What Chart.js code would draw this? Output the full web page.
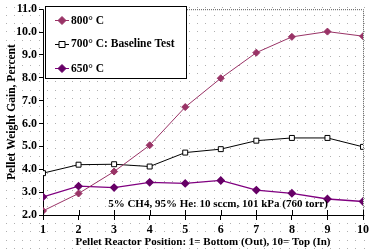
<!DOCTYPE html>
<html><head><meta charset="utf-8">
<script src="https://cdn.jsdelivr.net/npm/chart.js@4.4.0/dist/chart.umd.min.js"></script>
<style>html,body{margin:0;padding:0;background:#fff;}canvas{display:block;}</style>
</head><body>
<canvas id="c" width="372" height="251"></canvas>
<script>
const positions = [1,2,3,4,5,6,7,8,9,10];
const s800 = [2.18,2.94,3.9,5.05,6.72,7.98,9.1,9.79,10.02,9.82];
const s700 = [3.83,4.2,4.22,4.12,4.73,4.88,5.25,5.37,5.37,4.98];
const s650 = [2.79,3.26,3.2,3.43,3.38,3.51,3.09,2.95,2.7,2.59];
const yTicks = [2,3,4,5,6,7,8,9,10,11];
const labels = ["800° C","700° C: Baseline Test","650° C"];
const note = "5% CH4, 95% He: 10 sccm, 101 kPa (760 torr)";
const FONT = "'Liberation Serif','Times New Roman',serif";

const pts = a => a.map((v,i)=>({x:positions[i], y:v}));

const bgDots = {
  id:'bgDots',
  beforeDraw(chart){
    const ctx = chart.ctx;
    ctx.save();
    ctx.fillStyle='#fff'; ctx.fillRect(0,0,chart.width,chart.height);
    ctx.fillStyle='#b0b0b0';
    for(let x=5.5;x<chart.width;x+=8.33){
      for(let y=6.5;y<chart.height;y+=8.33){
        ctx.fillRect(Math.round(x),Math.round(y),1,1);
      }
    }
    ctx.restore();
  }
};

const extras = {
  id:'extras',
  afterDraw(chart){
    const ctx = chart.ctx, a = chart.chartArea;
    const xs = chart.scales.x;
    ctx.save();
    ctx.strokeStyle='#555'; ctx.lineWidth=1; ctx.setLineDash([1,1]);
    ctx.beginPath();
    ctx.moveTo(a.left, a.top+0.5); ctx.lineTo(a.right+0.5, a.top+0.5);
    ctx.lineTo(a.right+0.5, a.bottom);
    ctx.stroke();
    ctx.setLineDash([]);
    ctx.strokeStyle='#000';
    ctx.beginPath();
    positions.forEach(p=>{ const x=Math.round(xs.getPixelForValue(p))+0.5; ctx.moveTo(x,a.bottom-5); ctx.lineTo(x,a.bottom);});
    ctx.stroke();
    ctx.fillStyle='#000';
    ctx.font = "bold 11px "+FONT;
    ctx.textAlign='center'; ctx.textBaseline='middle';
    ctx.fillText(note, 218, 204);
    const L=45, T=6, W=141, H=72;
    ctx.fillStyle='#fff'; ctx.fillRect(L,T,W,H);
    ctx.strokeStyle='#000'; ctx.lineWidth=1;
    ctx.strokeRect(L+0.5,T+0.5,W,H);
    const rows=[20,43.5,68];
    chart.data.datasets.forEach((ds,i)=>{
      const y=rows[i];
      ctx.strokeStyle=ds.borderColor; ctx.lineWidth=1;
      ctx.beginPath(); ctx.moveTo(55,Math.round(y)+0.5); ctx.lineTo(69,Math.round(y)+0.5); ctx.stroke();
      drawMarker(ctx, ds.pointStyle, 62, Math.round(y)+0.5, ds.pointBackgroundColor, ds.pointBorderColor);
      ctx.fillStyle='#000';
      ctx.font="bold 11.5px "+FONT;
      ctx.textAlign='left'; ctx.textBaseline='middle';
      ctx.fillText(ds.label, 71, y+1);
    });
    ctx.restore();
  }
};
function drawMarker(ctx, style, x, y, fill, stroke){
  ctx.save();
  ctx.fillStyle=fill; ctx.strokeStyle=stroke; ctx.lineWidth=1;
  ctx.beginPath();
  if(style==='rect'){ ctx.rect(x-3,y-3,6,6); }
  else { ctx.moveTo(x,y-4); ctx.lineTo(x+4,y); ctx.lineTo(x,y+4); ctx.lineTo(x-4,y); ctx.closePath(); }
  ctx.fill(); ctx.stroke();
  ctx.restore();
}

new Chart(document.getElementById('c'), {
  type:'line',
  data:{
    datasets:[
      {label:labels[0], data:pts(s800), borderColor:'#993366', backgroundColor:'#993366', pointBackgroundColor:'#993366', pointBorderColor:'#993366', pointStyle:'rectRot', pointRadius:3.5, borderWidth:1, tension:0},
      {label:labels[1], data:pts(s700), borderColor:'#000000', backgroundColor:'#ffffff', pointBackgroundColor:'#ffffff', pointBorderColor:'#000000', pointStyle:'rect', pointRadius:3.5, borderWidth:1, tension:0},
      {label:labels[2], data:pts(s650), borderColor:'#800080', backgroundColor:'#660066', pointBackgroundColor:'#660066', pointBorderColor:'#660066', pointStyle:'rectRot', pointRadius:3.5, borderWidth:1.3, tension:0}
    ]
  },
  options:{
    responsive:false, animation:false, devicePixelRatio:1,
    layout:{padding:{top:6,right:7,left:0,bottom:0}},
    plugins:{legend:{display:false}, tooltip:{enabled:false}},
    scales:{
      x:{type:'linear', min:1, max:10,
        afterBuildTicks(s){ s.ticks = positions.map(v=>({value:v})); },
        afterFit(s){ s.height=36; },
        grid:{display:true, drawOnChartArea:false, drawTicks:true, tickLength:5, color:'#000'},
        border:{display:true,color:'#000',width:1},
        ticks:{color:'#000', font:{family:FONT,size:12,weight:'bold'}, padding:3, maxRotation:0, callback:v=>String(v)},
        title:{display:true, text:'Pellet Reactor Position: 1= Bottom (Out), 10= Top (In)', color:'#000', font:{family:FONT,size:11,weight:'bold'}, padding:{top:0,bottom:2}}
      },
      y:{min:2, max:11,
        afterBuildTicks(s){ s.ticks = yTicks.map(v=>({value:v})); },
        afterFit(s){ s.width=43; },
        grid:{display:true, drawOnChartArea:false, drawTicks:true, tickLength:4, color:'#000'},
        border:{display:true,color:'#000',width:1},
        ticks:{color:'#000', font:{family:FONT,size:12,weight:'bold'}, padding:2, callback:v=>v.toFixed(1)},
        title:{display:true, text:'Pellet Weight Gain, Percent', color:'#000', font:{family:FONT,size:11.5,weight:'bold'}, padding:{top:5,bottom:0}}
      }
    }
  },
  plugins:[bgDots, extras]
});
</script>
</body></html>
